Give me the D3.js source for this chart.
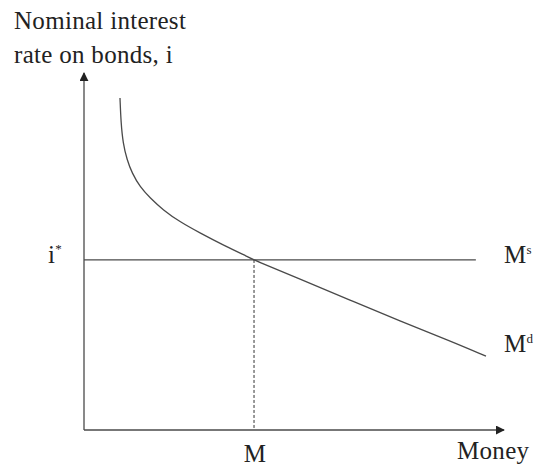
<!DOCTYPE html>
<html><head><meta charset="utf-8">
<script src="https://cdn.jsdelivr.net/npm/d3@7"></script>
<style>body{margin:0;background:#fff}svg{display:block}text{font-family:"Liberation Serif","Times New Roman",serif;fill:#222}</style>
</head><body><div id="chart"></div>
<script>
const yTitle = ["Nominal interest", "rate on bonds, i"];
const xTitle = "Money";
const rateLabel = ["i", "*"];
const moneyLabel = "M";
const supplyLabel = ["M", "s"];
const demandLabel = ["M", "d"];
const eqRate = 47.9;
const eqMoney = 40.48;
const supplyMoneyEnd = 93.3;
const demandMoney = [8.57, 8.81, 9.29, 10.24, 11.43, 13.33, 15.71, 18.81, 22.86, 27.62, 33.10, 39.52, 40.48, 51.43, 63.33, 75.24, 87.14, 95.71];
const demandRate  = [93.5, 86.5, 80.8, 76.1, 72.4, 68.5, 65.4, 62.0, 58.6, 55.5, 52.1, 48.5, 47.9, 42.5, 36.6, 30.7, 25.1, 20.8];

const W = 538, H = 467;
const svg = d3.select("#chart").append("svg").attr("width", W).attr("height", H);
const x = d3.scaleLinear().domain([0, 100]).range([84, 504]);
const y = d3.scaleLinear().domain([0, 100]).range([430, 75]);
const stroke = "#4a4a4a";

const defs = svg.append("defs");
defs.append("marker").attr("id", "arr").attr("viewBox", "0 0 10 10").attr("refX", 9).attr("refY", 5)
  .attr("markerWidth", 9).attr("markerHeight", 9).attr("markerUnits", "userSpaceOnUse").attr("orient", "auto")
  .append("path").attr("d", "M0,0L10,5L0,10Z").attr("fill", "#222");

// axes
svg.append("line").attr("x1", x(0)).attr("y1", y(0)).attr("x2", x(0)).attr("y2", y(100) - 2)
  .attr("stroke", stroke).attr("stroke-width", 1.3).attr("marker-end", "url(#arr)");
svg.append("line").attr("x1", x(0)).attr("y1", y(0)).attr("x2", x(100)).attr("y2", y(0))
  .attr("stroke", stroke).attr("stroke-width", 1.3).attr("marker-end", "url(#arr)");

// money supply (horizontal at i*)
svg.append("line").attr("x1", x(0)).attr("x2", x(supplyMoneyEnd)).attr("y1", y(eqRate)).attr("y2", y(eqRate))
  .attr("stroke", stroke).attr("stroke-width", 1.3);

// dashed drop line
svg.append("line").attr("x1", x(eqMoney)).attr("x2", x(eqMoney)).attr("y1", y(eqRate)).attr("y2", y(0))
  .attr("stroke", "#333").attr("stroke-width", 1).attr("stroke-dasharray", "3,2");

// money demand curve
const pts = demandMoney.map((m, i) => [m, demandRate[i]]);
svg.append("path").datum(pts)
  .attr("d", d3.line().x(d => x(d[0])).y(d => y(d[1])).curve(d3.curveBasis))
  .attr("fill", "none").attr("stroke", stroke).attr("stroke-width", 1.3);

// texts
const fs = 25, ss = 13;
const base = svg.append("g").attr("font-size", fs).attr("letter-spacing", 0.3);
base.append("text").attr("x", 14).attr("y", 29).text(yTitle[0]);
base.append("text").attr("x", 14).attr("y", 63).text(yTitle[1]);
base.append("text").attr("x", 457).attr("y", 459).text(xTitle);
base.append("text").attr("x", x(eqMoney) + 1).attr("y", 462).attr("text-anchor", "middle").text(moneyLabel);
const it = base.append("text").attr("x", 48).attr("y", 263);
it.append("tspan").text(rateLabel[0]);
it.append("tspan").attr("font-size", ss).attr("dy", -10).text(rateLabel[1]);
const st = base.append("text").attr("x", 504).attr("y", 263);
st.append("tspan").text(supplyLabel[0]);
st.append("tspan").attr("font-size", ss).attr("dy", -9).text(supplyLabel[1]);
const dt = base.append("text").attr("x", 504).attr("y", 352);
dt.append("tspan").text(demandLabel[0]);
dt.append("tspan").attr("font-size", ss).attr("dy", -9).text(demandLabel[1]);
</script></body></html>
